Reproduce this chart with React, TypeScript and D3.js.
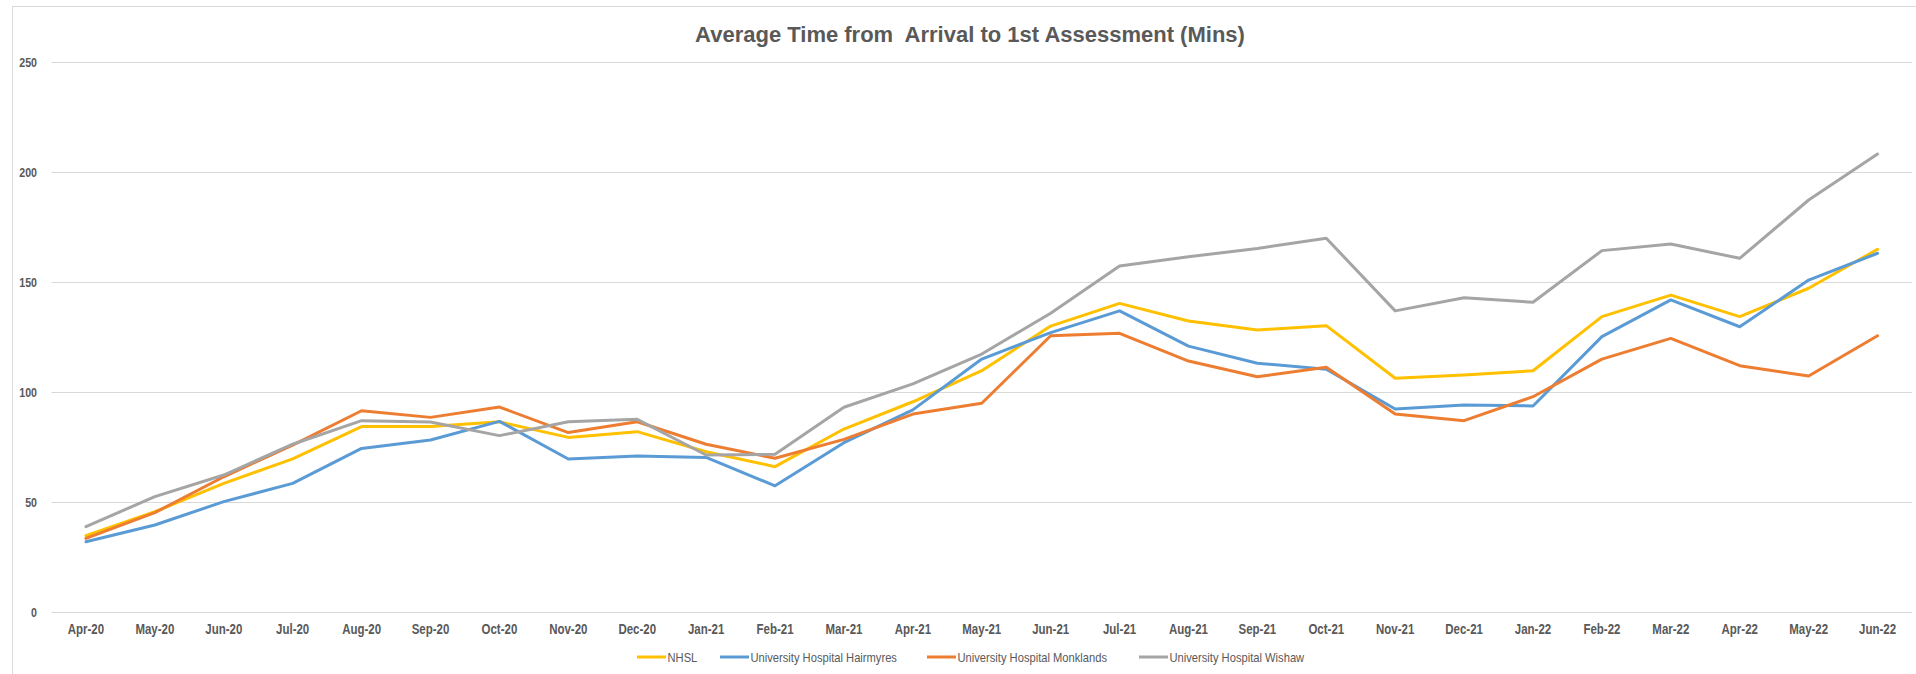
import { useEffect, useRef } from 'react'
import * as d3 from 'd3'

const MONTHS = [
  'Apr-20', 'May-20', 'Jun-20', 'Jul-20', 'Aug-20', 'Sep-20', 'Oct-20', 'Nov-20', 'Dec-20',
  'Jan-21', 'Feb-21', 'Mar-21', 'Apr-21', 'May-21', 'Jun-21', 'Jul-21', 'Aug-21', 'Sep-21',
  'Oct-21', 'Nov-21', 'Dec-21', 'Jan-22', 'Feb-22', 'Mar-22', 'Apr-22', 'May-22', 'Jun-22',
]
const NHSL = [34.8, 45.7, 58.6, 69.7, 84.4, 84.4, 86.6, 79.5, 82.1, 73.0, 66.2, 83.3, 95.7, 109.8, 130.1, 140.4, 132.4, 128.3, 130.3, 106.4, 107.9, 109.8, 134.4, 144.2, 134.4, 147.3, 165.0]
const HAIRMYRES = [32.1, 39.7, 50.3, 58.6, 74.5, 78.3, 86.8, 69.7, 71.0, 70.4, 57.5, 77.1, 92.0, 115.1, 127.1, 137.0, 121.0, 113.2, 110.5, 92.4, 94.2, 93.8, 125.3, 142.0, 129.8, 151.0, 163.2]
const MONKLANDS = [33.6, 45.3, 61.6, 76.0, 91.6, 88.6, 93.3, 81.7, 86.6, 76.4, 70.0, 78.6, 90.1, 95.0, 125.7, 126.8, 114.2, 107.1, 111.4, 90.1, 87.1, 98.0, 115.1, 124.5, 112.1, 107.4, 125.7]
const WISHAW = [38.9, 52.6, 62.4, 76.4, 87.1, 86.5, 80.3, 86.6, 87.7, 71.5, 71.8, 93.2, 103.8, 117.4, 135.9, 157.4, 161.6, 165.4, 170.0, 137.0, 143.0, 140.9, 164.4, 167.4, 160.9, 187.4, 208.3]
const Y_TICKS = [0, 50, 100, 150, 200, 250]

const SERIES = [
  { name: 'NHSL', color: '#FFC000', values: NHSL },
  { name: 'University Hospital Hairmyres', color: '#5B9BD5', values: HAIRMYRES },
  { name: 'University Hospital Monklands', color: '#ED7D31', values: MONKLANDS },
  { name: 'University Hospital Wishaw', color: '#A5A5A5', values: WISHAW },
]

const W = 1916
const H = 674
const FONT = "'Liberation Sans', Arial, sans-serif"
const TEXT = '#595959'
const NARROW = 0.82 // no Arial Narrow here: squeeze Liberation Sans instead

export default function App() {
  const svgRef = useRef<SVGSVGElement>(null)

  useEffect(() => {
    document.body.style.margin = '0'
    const svg = d3.select(svgRef.current!)
    svg.selectAll('*').remove()

    const x = d3.scalePoint<string>().domain(MONTHS).range([51.5, 1912]).padding(0.5)
    const y = d3.scaleLinear().domain([0, 250]).range([612.3, 62.3])

    // chart area border
    svg.append('rect').attr('x', 12.5).attr('y', 6.5).attr('width', W).attr('height', H)
      .attr('fill', 'none').attr('stroke', '#d9d9d9')

    svg.append('text').attr('x', 970).attr('y', 41.5).attr('text-anchor', 'middle')
      .attr('font-family', FONT).attr('font-weight', 'bold').attr('font-size', 22).attr('fill', TEXT)
      .style('white-space', 'pre')
      .text('Average Time from  Arrival to 1st Assessment (Mins)')

    const grid = svg.append('g')
    grid.selectAll('line').data(Y_TICKS).join('line')
      .attr('x1', 51.5).attr('x2', 1912)
      .attr('y1', (d) => Math.round(y(d)) + 0.5).attr('y2', (d) => Math.round(y(d)) + 0.5)
      .attr('stroke', '#d9d9d9').attr('stroke-width', 1.2)
    grid.selectAll('text').data(Y_TICKS).join('text')
      .attr('transform', (d) => `translate(37,${y(d)}) scale(${NARROW},1)`)
      .attr('dy', '0.35em').attr('text-anchor', 'end')
      .attr('font-family', FONT).attr('font-weight', 'bold').attr('font-size', 13).attr('fill', TEXT)
      .text((d) => d)

    svg.append('g').selectAll('text').data(MONTHS).join('text')
      .attr('transform', (d) => `translate(${x(d)},634) scale(${NARROW},1)`)
      .attr('text-anchor', 'middle')
      .attr('font-family', FONT).attr('font-weight', 'bold').attr('font-size', 14).attr('fill', TEXT)
      .text((d) => d)

    const line = d3.line<number>().x((_d, i) => x(MONTHS[i])!).y((d) => y(d))
    svg.append('g').selectAll('path').data(SERIES).join('path')
      .attr('fill', 'none').attr('stroke', (d) => d.color).attr('stroke-width', 3)
      .attr('stroke-linejoin', 'round').attr('stroke-linecap', 'round')
      .attr('d', (d) => line(d.values))

    // legend
    const legendX = [637, 720, 927, 1139]
    const lg = svg.append('g').selectAll('g').data(SERIES).join('g')
      .attr('transform', (_d, i) => `translate(${legendX[i]},657)`)
    lg.append('line').attr('x1', 0).attr('x2', 29).attr('stroke', (d) => d.color).attr('stroke-width', 3)
    lg.append('text').attr('transform', 'translate(30.5,0) scale(0.86,1)').attr('dy', '0.35em')
      .attr('font-family', FONT).attr('font-size', 13).attr('fill', TEXT)
      .text((d) => d.name)
  }, [])

  return <svg ref={svgRef} width={W} height={H} style={{ display: 'block', background: '#fff' }} />
}
